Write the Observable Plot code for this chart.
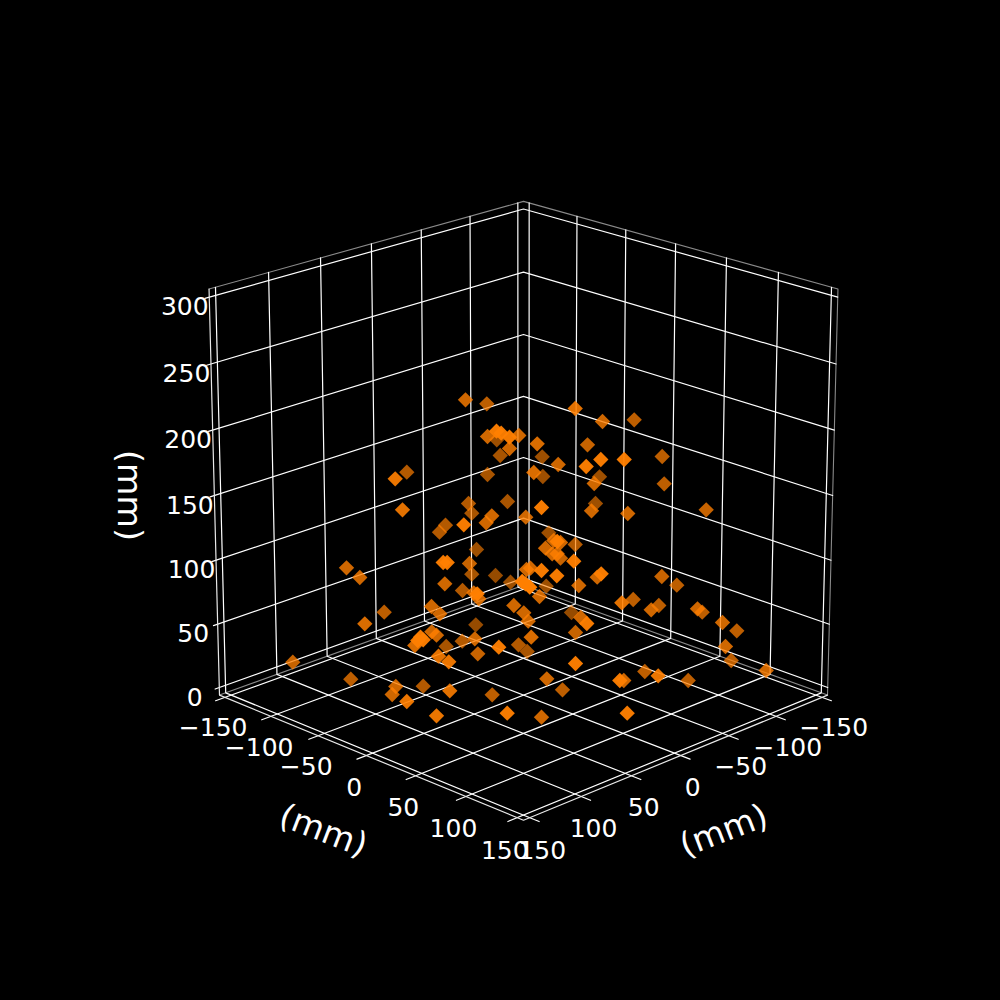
<!DOCTYPE html>
<html><head><meta charset="utf-8">
<script src="https://cdn.jsdelivr.net/npm/d3@7"></script>
<script src="https://cdn.jsdelivr.net/npm/@observablehq/plot@0.6"></script>
<style>html,body{margin:0;padding:0;background:#000}svg{display:block}</style>
</head><body><div id="chart"></div>
<script>
const horizontalTicks = [-150,-100,-50,0,50,100,150];
const heightTicks = [0,50,100,150,200,250,300];
const axisLabel = "(mm)";
const minus = t => String(t).replace("-", "\u2212");

// marker positions (page units) and their depth shade
const markerX = [465,486.3,394.7,406.3,402,487,496.3,496,500.7,509,518.3,509,499.7,487,468,471.3,507,491.3,485.7,463.3,445,439,525.3,476,
574.7,602,633.7,536.7,587,541.7,557.7,600.3,585.7,623.7,661.7,533.3,542.3,599,593.7,663.7,595,591,541,627.3,705.7,
548.3,553.3,556.7,560,574.7,545,551.7,556.7,560,573.3,530,526,541,556.3,600.7,596.7,661.3,676.3,578.3,545.7,521.7,525,529.3,510,539,513.3,621.3,632.7,658.3,650.7,571,580.3,586.3,523.3,527.7,575,530.7,518,526.7,697,701.7,722,736.3,725,
730.7,765.7,575,644.3,657.7,687.7,619.3,623.3,546.3,562,626.7,541,
346,359.3,442.7,446.7,469,471.3,444.3,495,462,473.3,476.7,478.3,383.7,364.3,431,439.3,475.3,431.3,436,420,417.3,422.7,414.3,445.7,461.7,474.3,498.3,
292.3,350.3,395.3,391.7,406.3,422.7,449.3,491.7,436,506.7,438,448.3,477.3];
const markerY = [399.3,403.3,478.3,471.7,509.3,436,439.3,430.7,432.7,436.7,435,448,455,474,503,512.7,501,515.3,522.3,524.3,524.7,531.7,516.7,549,
408,421,419.3,443.3,444.3,456.3,464,459,466,459,456,472,476,476.3,483,483.3,503,510.3,507,513,509.3,
532.3,540,541,542,544,547.7,553.3,553.3,557.7,560.7,567.7,569,570,575.3,573.3,576.7,576,584.7,585,585.7,581,583.3,586.7,581.7,596,605,602.3,599,605,609.3,612,617,623,612.3,620.7,632,636.7,644.3,651,608.3,611.7,622,630.3,646,
660,670,663,671,675.3,680,680,680,678.3,689.3,712.7,716.7,
567.3,577,562,562,563,573.7,583.3,575,590,592.3,593.3,598.3,611.7,623.3,606,613.3,624.3,631.3,634.7,636.7,640,639.3,645,646,640.7,638.3,646.7,
661.7,678.7,686,694,701,685.7,690.3,694.3,715.3,712.7,655.7,661.3,653.3];
const markerShade = [.81,.74,.92,.7,.89,.81,.62,.96,.96,.96,.81,.81,.66,.66,.7,.66,.66,.81,.81,.96,.7,.7,.81,.62,
.89,.81,.74,.85,.78,.62,.81,.96,.96,.96,.74,.85,.62,.62,.81,.74,.62,.81,.96,.81,.78,
.62,.81,.96,.81,.7,.81,.81,.81,.78,.96,.81,.81,.96,.96,.96,.81,.78,.74,.81,.62,1,1,1,.62,.81,.81,.89,.74,.74,.81,.59,.81,.96,.81,.81,.78,.85,.7,.66,.81,.74,.81,.74,.81,
.74,.81,.96,.74,.92,.74,.96,.81,.81,.74,.96,.81,
.81,.81,.96,.96,.78,.66,.81,.59,.7,.81,.96,.81,.74,.85,.81,.81,.59,.81,.81,.96,.96,.96,.85,.66,.7,.81,.96,
.78,.74,.81,.81,.92,.7,.89,.74,.92,.96,.89,.92,.78];
const markerOrder = d3.sort(d3.range(markerX.length), i => markerShade[i]);

// view of the box
const limH = 156, zMin = -6, zMax = 306;
const elev = 20 * Math.PI / 180, dist = 10, zoom = 4372, cx = 523, cy = 495, halfZ = 0.494;
function project(x, y, z) {
  const X = x / limH * 0.5, Y = y / limH * 0.5, Z = ((z - zMin) / (zMax - zMin) - 0.5) * 2 * halfZ;
  const u = (Y - X) * Math.SQRT1_2, v = (X + Y) * Math.SQRT1_2;
  const up = -v * Math.sin(elev) + Z * Math.cos(elev);
  const w = dist - (v * Math.cos(elev) + Z * Math.sin(elev));
  return [cx + zoom * u / w, cy - zoom * up / w];
}
const out = 9, zOut = 4;
const grid = [], edgesGrey = [], edgesWhite = [];
let k = 0;
const add = (arr, pts) => { k++; pts.forEach(p => { const q = project(...p); arr.push({k, px: q[0], py: q[1]}); }); };
for (const t of horizontalTicks) {
  add(grid, [[t, -limH, zMax], [t, -limH, zMin], [t, limH + out, zMin]]);
  add(grid, [[-limH, t, zMax], [-limH, t, zMin], [limH + out, t, zMin]]);
}
for (const t of heightTicks) {
  add(grid, [[limH + zOut, -limH, t], [-limH, -limH, t], [-limH, limH, t]]);
}
add(edgesGrey, [[limH, -limH, zMax], [-limH, -limH, zMax], [-limH, limH, zMax], [-limH, limH, zMin], [-limH, -limH, zMin], [limH, -limH, zMin]]);
add(edgesWhite, [[limH, -limH, zMax], [limH, -limH, zMin], [limH, limH, zMin], [-limH, limH, zMin]]);

const labAt = (x, y, z) => project(x, y, z);
const leftLabels = horizontalTicks.map(t => ({t: minus(t), p: labAt(limH + 12, t, zMin - 21)}));
const rightLabels = horizontalTicks.map(t => ({t: minus(t), p: labAt(t, limH + 12, zMin - 21)}));
const zLabels = heightTicks.map(t => ({t: String(t), p: project(limH, -limH, t)}));
const titles = [
  {t: axisLabel, p: labAt(limH + 42, 0, zMin - 45), r: 21},
  {t: axisLabel, p: labAt(0, limH + 42, zMin - 45), r: -21},
  {t: axisLabel, p: project(limH + 43, -limH - 43, 150), r: 90}
];
const line = (arr, stroke, sw) => Plot.line(arr, {x: "px", y: "py", z: "k", stroke, strokeWidth: sw, strokeLinejoin: "miter"});
const font = "DejaVu Sans";
const chart = Plot.plot({
  width: 1000, height: 1000, margin: 0,
  x: {domain: [0, 1000], range: [0, 1000], axis: null},
  y: {domain: [0, 1000], range: [0, 1000], axis: null},
  style: {background: "#000"},
  marks: [
    line(edgesGrey, "#8a8a8a", 1.1),
    line(grid, "#ffffff", 1.2),
    line(edgesWhite, "#e8e8e8", 1.2),
    Plot.dot(markerOrder, {x: i => markerX[i], y: i => markerY[i], symbol: "diamond2", r: 6.9,
      fill: "#ff7f00", fillOpacity: i => markerShade[i], stroke: "none"}),
    Plot.text(leftLabels.concat(rightLabels), {x: d => d.p[0], y: d => d.p[1], text: "t", fontSize: 25, fontFamily: font, fill: "#fff", textAnchor: "middle"}),
    Plot.text(zLabels, {x: d => d.p[0], y: d => d.p[1], dx: -24.5, dy: 10, text: "t", fontSize: 25, fontFamily: font, fill: "#fff", textAnchor: "middle"}),
    ...titles.map(d => Plot.text([d], {x: e => e.p[0], y: e => e.p[1], text: "t", rotate: d.r, fontSize: 33.3, fontFamily: font, fill: "#fff", textAnchor: "middle"}))
  ]
});
document.getElementById("chart").appendChild(chart);
</script></body></html>
